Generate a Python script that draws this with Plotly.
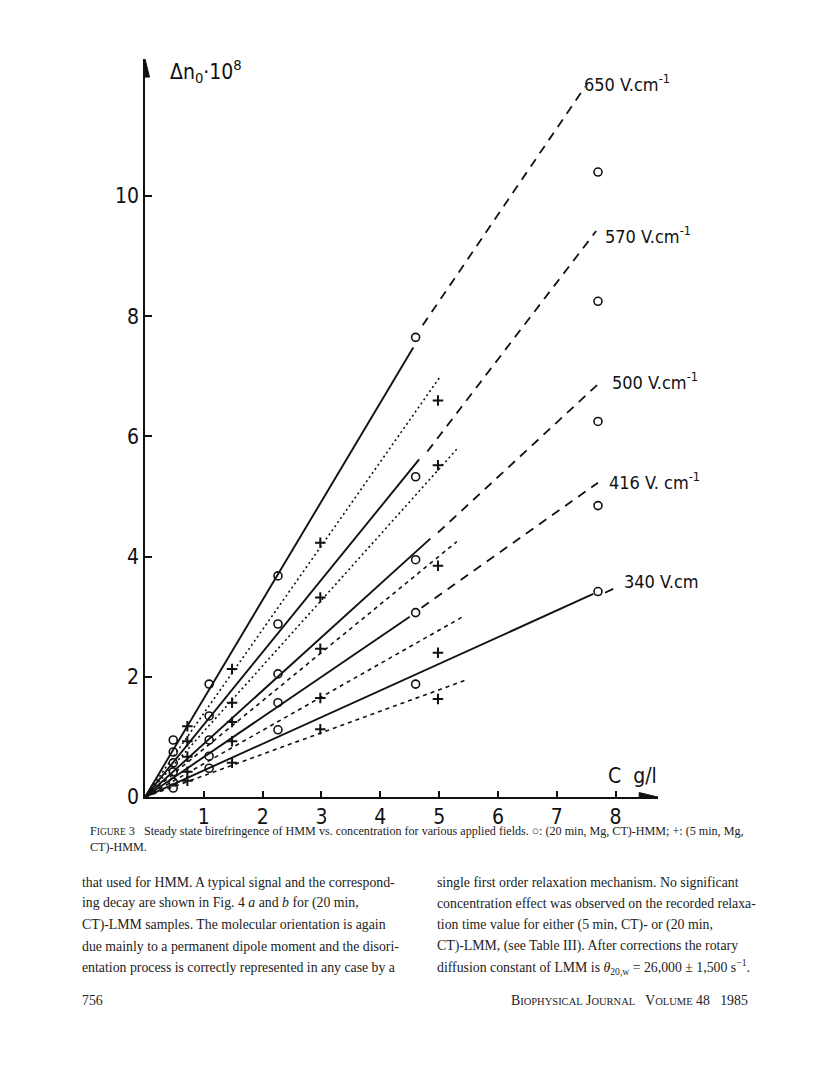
import plotly.graph_objects as go

# ---------------- data ----------------
fields = ["650", "570", "500", "416", "340"]
field_labels = ["650 V.cm<sup>-1</sup>", "570 V.cm<sup>-1</sup>", "500 V.cm<sup>-1</sup>",
                "416 V. cm<sup>-1</sup>", "340 V.cm"]

# (20 min, Mg, CT)-HMM  -> open circles
circ_x = [0.48, 1.09, 2.26, 4.6, 7.7]
circ_650 = [0.95, 1.88, 3.68, 7.65, 10.4]
circ_570 = [0.75, 1.35, 2.88, 5.33, 8.25]
circ_500 = [0.57, 0.95, 2.05, 3.95, 6.25]
circ_416 = [0.42, 0.68, 1.57, 3.07, 4.85]
circ_340 = [0.25, 0.48, 1.12, 1.88, 3.42]
circ_extra_x = [0.48]
circ_extra_y = [0.15]

# (5 min, Mg, CT)-HMM  -> crosses
plus_x = [0.72, 1.48, 2.98, 4.98]
plus_650 = [1.18, 2.13, 4.23, 6.6]
plus_570 = [0.93, 1.57, 3.32, 5.52]
plus_500 = [0.67, 1.25, 2.47, 3.85]
plus_416 = [0.42, 0.93, 1.65, 2.4]
plus_340 = [0.27, 0.57, 1.13, 1.63]

# fitted lines, 20 min series: solid part from origin to end
solid_end_x = [4.56, 4.66, 4.85, 4.5, 7.62]
solid_end_y = [7.48, 5.62, 4.3, 3.0, 3.38]
# dashed extrapolation
dash_x0 = [4.72, 4.8, 4.98, 4.7, 7.82]
dash_y0 = [7.85, 5.75, 4.4, 3.15, 3.40]
dash_x1 = [7.48, 7.67, 7.7, 7.7, 7.97]
dash_y1 = [11.82, 9.42, 6.87, 5.23, 3.47]
# fitted lines, 5 min series (from origin)
plus_fit_end_x = [5.02, 5.31, 5.3, 5.4, 5.46]
plus_fit_end_y = [7.0, 5.8, 4.25, 3.0, 1.95]

x_ticks = [1, 2, 3, 4, 5, 6, 7, 8]
y_ticks = [0, 2, 4, 6, 8, 10]
x_max = 8.72
y_max = 12.28

circ_all = [circ_650, circ_570, circ_500, circ_416, circ_340]
plus_all = [plus_650, plus_570, plus_500, plus_416, plus_340]

# ---------------- geometry helpers (page pixels -> paper) ----------------
FW, FH = 800, 1030
VS, V0 = 0.987, 1.1   # empirical vertical correction of the capture


def fx(px):
    return (px - 8) / FW


def fy(py):
    return 1 - ((py - V0) / VS - 8) / FH


BLACK = "#111"
fig = go.Figure()

for i in range(5):
    fig.add_trace(go.Scatter(x=[0, solid_end_x[i]], y=[0, solid_end_y[i]], mode="lines",
                             line=dict(color=BLACK, width=1.9), showlegend=False,
                             hoverinfo="skip"))
    fig.add_trace(go.Scatter(x=[dash_x0[i], dash_x1[i]], y=[dash_y0[i], dash_y1[i]],
                             mode="lines",
                             line=dict(color=BLACK, width=1.8, dash="9px,7px"),
                             showlegend=False, hoverinfo="skip"))
    pdash = "2px,3px" if i < 2 else "4px,4px"
    fig.add_trace(go.Scatter(x=[0, plus_fit_end_x[i]], y=[0, plus_fit_end_y[i]],
                             mode="lines",
                             line=dict(color=BLACK, width=1.6, dash=pdash),
                             showlegend=False, hoverinfo="skip"))

for i in range(5):
    fig.add_trace(go.Scatter(x=circ_x, y=circ_all[i], mode="markers",
                             marker=dict(symbol="circle-open", size=8, color=BLACK,
                                         line=dict(width=1.6, color=BLACK)),
                             cliponaxis=False, showlegend=False))
    fig.add_trace(go.Scatter(x=plus_x, y=plus_all[i], mode="markers",
                             marker=dict(symbol="cross-thin", size=7.5, color=BLACK,
                                         line=dict(width=2, color=BLACK)),
                             cliponaxis=False, showlegend=False))
fig.add_trace(go.Scatter(x=circ_extra_x, y=circ_extra_y, mode="markers",
                         marker=dict(symbol="circle-open", size=8, color=BLACK,
                                     line=dict(width=1.6, color=BLACK)),
                         cliponaxis=False, showlegend=False))

AXFONT = dict(family="Liberation Sans Narrow, DejaVu Sans Condensed, Liberation Sans",
              size=21, color=BLACK)

fig.update_layout(
    width=FW, height=FH,
    margin=dict(l=0, r=0, t=0, b=0),
    paper_bgcolor="white", plot_bgcolor="white",
    xaxis=dict(domain=[fx(145), fx(658)], range=[0, x_max], showgrid=False,
               zeroline=False, showline=True, linecolor=BLACK, linewidth=1.7,
               ticks="inside", ticklen=6, tickwidth=1.5, tickcolor=BLACK,
               tickvals=x_ticks, tickfont=AXFONT, anchor="y"),
    yaxis=dict(domain=[fy(797), fy(60)], range=[0, y_max], showgrid=False,
               zeroline=False, showline=True, linecolor=BLACK, linewidth=1.7,
               ticks="inside", ticklen=7, tickwidth=1.5, tickcolor=BLACK,
               tickvals=y_ticks, tickfont=AXFONT, anchor="x"),
)

fig.add_shape(type="path", xref="x", yref="y",
              path=f"M {x_max-0.32} -0.075 L {x_max} 0 L {x_max-0.32} 0.075 Z",
              fillcolor=BLACK, line=dict(color=BLACK, width=1))
fig.add_shape(type="path", xref="x", yref="y",
              path=f"M -0.077 {y_max-0.3} L 0 {y_max} L 0.077 {y_max-0.3} Z",
              fillcolor=BLACK, line=dict(color=BLACK, width=1))

fig.add_annotation(xref="paper", yref="paper", x=fx(168), y=fy(72), xanchor="left",
                   yanchor="middle", showarrow=False,
                   text="Δn<sub>0</sub>·10<sup>8</sup>", font=AXFONT)
fig.add_annotation(xref="paper", yref="paper", x=fx(606), y=fy(776), xanchor="left",
                   yanchor="middle", showarrow=False, text="C  g/l", font=AXFONT)

label_pos = [(582, 84), (603, 236), (610, 381), (607, 481), (622, 582)]
LBLFONT = dict(family="Liberation Sans Narrow, DejaVu Sans Condensed, Liberation Sans",
               size=18, color=BLACK)
for (px, py), t in zip(label_pos, field_labels):
    fig.add_annotation(xref="paper", yref="paper", x=fx(px), y=fy(py), xanchor="left",
                       yanchor="middle", showarrow=False, text=t, font=LBLFONT)

SERIF = "Liberation Serif, Times New Roman, serif"
CAPFONT = dict(family=SERIF, size=12.1, color="#222")
cap1 = ("F<span style='font-size:9.5px'>IGURE</span> 3   Steady state birefringence of HMM vs. "
        "concentration for various applied fields. ○: (20 min, Mg, CT)-HMM; +: (5 min, Mg,")
cap2 = "CT)-HMM."
fig.add_annotation(xref="paper", yref="paper", x=fx(88), y=fy(831), xanchor="left",
                   yanchor="middle", showarrow=False, text=cap1, font=CAPFONT)
fig.add_annotation(xref="paper", yref="paper", x=fx(88), y=fy(847), xanchor="left",
                   yanchor="middle", showarrow=False, text=cap2, font=CAPFONT)

BODY = dict(family=SERIF, size=13.8, color="#222")
left_lines = [
    "that used for HMM. A typical signal and the correspond-",
    "ing decay are shown in Fig. 4 <i>a</i> and <i>b</i> for (20 min,",
    "CT)-LMM samples. The molecular orientation is again",
    "due mainly to a permanent dipole moment and the disori-",
    "entation process is correctly represented in any case by a",
]
right_lines = [
    "single first order relaxation mechanism. No significant",
    "concentration effect was observed on the recorded relaxa-",
    "tion time value for either (5 min, CT)- or (20 min,",
    "CT)-LMM, (see Table III). After corrections the rotary",
    "diffusion constant of LMM is <i>θ</i><sub>20,w</sub> = 26,000 ± 1,500 s<sup>−1</sup>.",
]
line_y = [882, 903, 925, 946, 967]
for t, yy in zip(left_lines, line_y):
    fig.add_annotation(xref="paper", yref="paper", x=fx(80), y=fy(yy), xanchor="left",
                       yanchor="middle", showarrow=False, text=t, font=BODY)
for t, yy in zip(right_lines, line_y):
    fig.add_annotation(xref="paper", yref="paper", x=fx(435), y=fy(yy), xanchor="left",
                       yanchor="middle", showarrow=False, text=t, font=BODY)

fig.add_annotation(xref="paper", yref="paper", x=fx(80), y=fy(1000), xanchor="left",
                   yanchor="middle", showarrow=False, text="756", font=BODY)
fig.add_annotation(xref="paper", yref="paper", x=fx(750), y=fy(1000), xanchor="right",
                   yanchor="middle", showarrow=False,
                   text=("B<span style='font-size:10.5px'>IOPHYSICAL</span> "
                         "J<span style='font-size:10.5px'>OURNAL</span>   "
                         "V<span style='font-size:10.5px'>OLUME</span> 48   1985"),
                   font=BODY)

fig.write_html("out.html")
